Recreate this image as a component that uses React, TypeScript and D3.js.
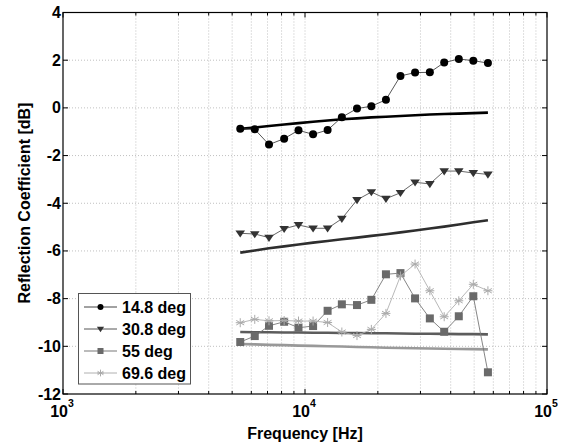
import React from "react";
import * as d3 from "d3";

const freqs = [5400, 6200, 7100, 8200, 9400, 10800, 12400, 14200, 16400, 18800, 21600, 24800, 28500, 32800, 37600, 43200, 49600, 57000];

const meas148 = [-0.88, -0.9, -1.54, -1.29, -0.94, -1.11, -0.93, -0.39, -0.03, 0.07, 0.34, 1.34, 1.48, 1.49, 1.9, 2.05, 1.98, 1.88];
const meas308 = [-5.26, -5.29, -5.44, -5.07, -4.91, -5.05, -5.05, -4.65, -3.86, -3.53, -3.81, -3.56, -3.12, -3.19, -2.65, -2.65, -2.73, -2.79];
const meas55 = [-9.82, -9.57, -9.14, -8.97, -9.22, -9.15, -8.51, -8.24, -8.27, -8.05, -6.98, -6.93, -7.99, -8.83, -9.39, -8.74, -7.9, -11.09];
const meas696 = [-9.01, -8.87, -8.93, -8.92, -8.94, -8.94, -9.0, -9.4, -9.55, -9.29, -8.62, -7.05, -6.55, -7.67, -8.76, -8.09, -7.4, -7.67];

const theory148 = [-0.88, -0.82, -0.76, -0.7, -0.64, -0.58, -0.53, -0.48, -0.44, -0.4, -0.37, -0.34, -0.31, -0.28, -0.26, -0.24, -0.22, -0.2];
const theory308 = [-6.07, -5.98, -5.89, -5.81, -5.73, -5.65, -5.58, -5.51, -5.44, -5.37, -5.3, -5.22, -5.14, -5.06, -4.98, -4.89, -4.8, -4.71];
const theory55 = [-9.4, -9.41, -9.41, -9.42, -9.42, -9.43, -9.43, -9.44, -9.44, -9.45, -9.45, -9.46, -9.47, -9.47, -9.48, -9.49, -9.49, -9.5];
const theory696 = [-9.9, -9.92, -9.94, -9.95, -9.97, -9.98, -10.0, -10.01, -10.03, -10.04, -10.06, -10.07, -10.08, -10.09, -10.1, -10.11, -10.12, -10.13];

const legendLabels = ["14.8 deg", "30.8 deg", "55 deg", "69.6 deg"];
const yTicks = [-12, -10, -8, -6, -4, -2, 0, 2, 4];
const xMajor = [1000, 10000, 100000];
const xExponents = ["3", "4", "5"];

const W = 569, H = 447;
const M = { left: 63, right: 547, top: 12.5, bottom: 394 };
const FONT = "Liberation Sans, Arial, Helvetica, sans-serif";

const x = d3.scaleLog().domain([1000, 100000]).range([M.left, M.right]);
const y = d3.scaleLinear().domain([-12, 4]).range([M.bottom, M.top]);

const xMinor: number[] = [];
[1000, 10000].forEach((b) => {
  for (let k = 2; k <= 9; k++) xMinor.push(b * k);
});

type MarkerKind = "circle" | "tri" | "square" | "star";

function Marker({ kind, cx, cy, color, s = 1 }: { kind: MarkerKind; cx: number; cy: number; color: string; s?: number }) {
  if (kind === "circle") return <circle cx={cx} cy={cy} r={4 * s} fill={color} />;
  if (kind === "tri") {
    const a = 4.8 * s;
    return <path d={`M${cx - a},${cy - a * 0.6}L${cx + a},${cy - a * 0.6}L${cx},${cy + a * 0.9}Z`} fill={color} />;
  }
  if (kind === "square") {
    const a = 4 * s;
    return <rect x={cx - a} y={cy - a} width={2 * a} height={2 * a} fill={color} />;
  }
  const r = 4.5 * s;
  const segs = [0, 60, 120].map((deg) => {
    const t = (deg * Math.PI) / 180;
    return `M${cx - r * Math.sin(t)},${cy - r * Math.cos(t)}L${cx + r * Math.sin(t)},${cy + r * Math.cos(t)}`;
  });
  return <path d={segs.join("") + `M${cx - r},${cy}L${cx + r},${cy}`} stroke={color} strokeWidth={1} fill="none" />;
}

const series = [
  { data: meas148, theory: theory148, kind: "circle" as MarkerKind, color: "#000", lineColor: "#444", thColor: "#000" },
  { data: meas308, theory: theory308, kind: "tri" as MarkerKind, color: "#333", lineColor: "#555", thColor: "#2e2e2e" },
  { data: meas55, theory: theory55, kind: "square" as MarkerKind, color: "#6a6a6a", lineColor: "#777", thColor: "#5c5c5c" },
  { data: meas696, theory: theory696, kind: "star" as MarkerKind, color: "#aaa", lineColor: "#b0b0b0", thColor: "#999" },
];

const line = d3
  .line<number>()
  .x((_, i) => x(freqs[i]))
  .y((d) => y(d));

export default function App() {
  return (
    <svg width={W} height={H} style={{ position: "absolute", left: 0, top: 0, background: "#fff" }} fontFamily={FONT}>
      <rect x={0} y={0} width={W} height={H} fill="#fff" />
      {/* grid */}
      <g stroke="#b0b0b0" strokeWidth={0.8} strokeDasharray="1,2">
        {[...xMinor, 10000].map((f) => (
          <line key={"gx" + f} x1={x(f)} x2={x(f)} y1={M.top} y2={M.bottom} />
        ))}
        {yTicks.slice(1, -1).map((v) => (
          <line key={"gy" + v} x1={M.left} x2={M.right} y1={y(v)} y2={y(v)} />
        ))}
      </g>
      {/* ticks */}
      <g stroke="#000" strokeWidth={1}>
        {yTicks.map((v) => (
          <g key={"ty" + v}>
            <line x1={M.left} x2={M.left + 5} y1={y(v)} y2={y(v)} />
            <line x1={M.right} x2={M.right - 5} y1={y(v)} y2={y(v)} />
          </g>
        ))}
        {xMajor.map((f) => (
          <g key={"tx" + f}>
            <line x1={x(f)} x2={x(f)} y1={M.bottom} y2={M.bottom - 5} />
            <line x1={x(f)} x2={x(f)} y1={M.top} y2={M.top + 5} />
          </g>
        ))}
        {xMinor.map((f) => (
          <g key={"tm" + f}>
            <line x1={x(f)} x2={x(f)} y1={M.bottom} y2={M.bottom - 3} />
            <line x1={x(f)} x2={x(f)} y1={M.top} y2={M.top + 3} />
          </g>
        ))}
      </g>
      {/* theory lines */}
      {series.map((s, i) => (
        <path key={"th" + i} d={line(s.theory) || ""} fill="none" stroke={s.thColor} strokeWidth={2.6} />
      ))}
      {/* measured */}
      {series.map((s, i) => (
        <g key={"m" + i}>
          <path d={line(s.data) || ""} fill="none" stroke={s.lineColor} strokeWidth={0.9} />
          {s.data.map((v, j) => (
            <Marker key={j} kind={s.kind} cx={x(freqs[j])} cy={y(v)} color={s.color} />
          ))}
        </g>
      ))}
      {/* axes box */}
      <rect x={M.left} y={M.top} width={M.right - M.left} height={M.bottom - M.top} fill="none" stroke="#000" strokeWidth={1.2} />
      {/* y tick labels */}
      <g fontSize={16} fontWeight="bold" textAnchor="end">
        {yTicks.map((v) => (
          <text key={"yl" + v} x={M.left - 2} y={y(v) + 5.5}>
            {v}
          </text>
        ))}
      </g>
      {/* x tick labels */}
      <g fontSize={16} fontWeight="bold">
        {xMajor.map((f, i) => (
          <text key={"xl" + f} x={x(f) - 1} y={416.5} textAnchor="middle">
            10
            <tspan fontSize={10.5} dy={-10}>
              {xExponents[i]}
            </tspan>
          </text>
        ))}
      </g>
      <text x={305} y={438.5} fontSize={16} fontWeight="bold" textAnchor="middle">
        Frequency [Hz]
      </text>
      <text transform={`translate(30,203) rotate(-90)`} fontSize={16} fontWeight="bold" textAnchor="middle">
        Reflection Coefficient [dB]
      </text>
      {/* legend */}
      <g>
        <rect x={78.5} y={293.5} width={112} height={90.5} fill="#fff" stroke="#555" strokeWidth={1} />
        {series.map((s, i) => {
          const cy = 307 + i * 22;
          return (
            <g key={"lg" + i}>
              <line x1={84} x2={117} y1={cy} y2={cy} stroke={i === 2 ? "#bbb" : s.lineColor} strokeWidth={i === 2 ? 2 : 1} />
              <Marker kind={s.kind} cx={100.5} cy={cy} color={s.color} s={0.75} />
              <text x={122} y={cy + 5.5} fontSize={16} fontWeight="bold">
                {legendLabels[i]}
              </text>
            </g>
          );
        })}
      </g>
    </svg>
  );
}
